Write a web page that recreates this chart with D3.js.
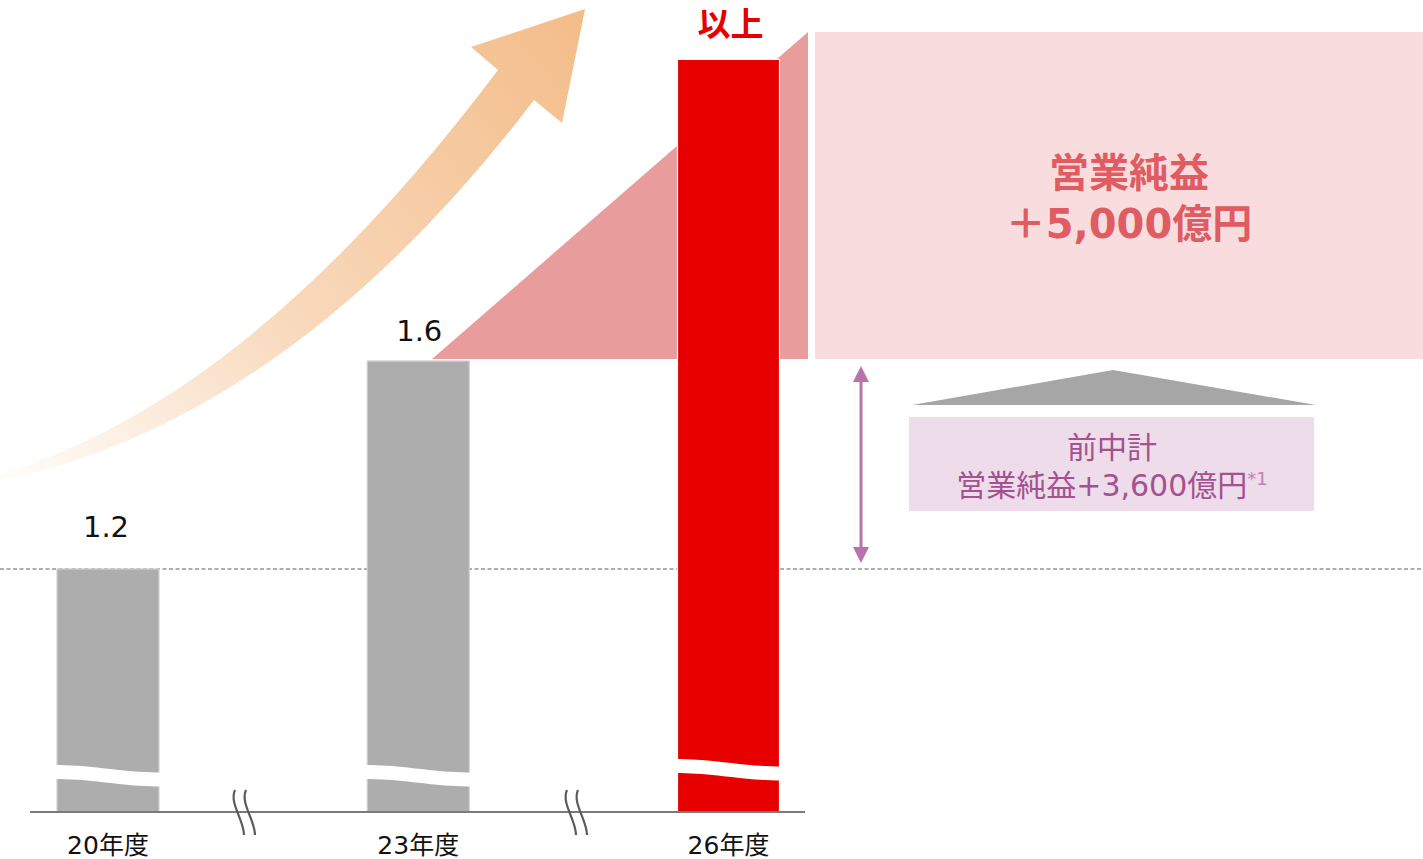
<!DOCTYPE html>
<html>
<head>
<meta charset="utf-8">
<script src="https://cdn.jsdelivr.net/npm/d3@7"></script>
<style>
  body { margin: 0; background: #fff; }
  svg { display: block; }
</style>
</head>
<body>
<svg id="chart" width="1423" height="859"></svg>
<script>
// data
const categories = ["20年度", "23年度", "26年度"];
const values = [1.2, 1.6, 2.18];
const valueLabels = ["1.2", "1.6", ""];
const barColors = ["#ADADAD", "#ADADAD", "#E60000"];
const targetTitle = ["営業純益", "＋5,000億円"];
const prevPlan = ["前中計", "営業純益+3,600億円"];
const prevNote = "*1";
const topNote = "以上";

const W = 1423, H = 859;
const baseY = 812;
const barW = 102;
const font = "'DejaVu Sans', 'Noto Sans CJK JP', sans-serif";
const cjk = "'Noto Sans CJK JP', sans-serif";

const svg = d3.select("#chart");

// broken axis: only relative heights matter
const y = d3.scaleLinear().domain([1.2, 1.6]).range([569, 361]);
const x = d3.scalePoint().domain(categories).range([108, 728.5]);

// gradient for the growth arrow
const defs = svg.append("defs");
const grad = defs.append("linearGradient")
    .attr("id", "arrowGrad")
    .attr("gradientUnits", "userSpaceOnUse")
    .attr("x1", 0).attr("y1", 480).attr("x2", 585).attr("y2", 9);
grad.append("stop").attr("offset", 0).attr("stop-color", "#F4BE8C").attr("stop-opacity", 0.03);
grad.append("stop").attr("offset", 0.45).attr("stop-color", "#F4BE8C").attr("stop-opacity", 0.6);
grad.append("stop").attr("offset", 1).attr("stop-color", "#F3BC88").attr("stop-opacity", 1);

// growth arrow
const ap = d3.path();
ap.moveTo(0, 474);
ap.quadraticCurveTo(250, 400, 498, 70);
ap.lineTo(471, 47);
ap.lineTo(585, 9);
ap.lineTo(562, 123);
ap.lineTo(534, 100);
ap.quadraticCurveTo(290, 420, 0, 481);
ap.closePath();
svg.append("path").attr("d", ap.toString()).attr("fill", "url(#arrowGrad)");

// target box + wedge
const boxTop = 32;
const boxBottom = y(values[1]) - 2;
svg.append("path")
    .attr("d", `M432,${boxBottom}L808,${boxBottom}L808,${boxTop}Z`)
    .attr("fill", "#E99C9C");
svg.append("rect")
    .attr("x", 815).attr("y", boxTop)
    .attr("width", W - 815).attr("height", boxBottom - boxTop)
    .attr("fill", "#F9DCDE");
svg.append("g")
    .selectAll("text")
    .data(targetTitle)
    .join("text")
    .attr("x", 1129)
    .attr("y", (d, i) => 187 + i * 51)
    .attr("text-anchor", "middle")
    .attr("font-family", font)
    .attr("font-weight", "bold")
    .attr("font-size", 40)
    .attr("fill", "#DF5C63")
    .text(d => d);

// dashed reference line at 20年度 level
svg.append("line")
    .attr("x1", 0).attr("x2", W)
    .attr("y1", y(values[0])).attr("y2", y(values[0]))
    .attr("stroke", "#5E5E5E")
    .attr("stroke-width", 1.2)
    .attr("stroke-dasharray", "4,2.5");

// bars
const bars = svg.append("g");
bars.selectAll("rect")
    .data(values)
    .join("rect")
    .attr("x", (d, i) => x(categories[i]) - barW / 2)
    .attr("y", d => y(d))
    .attr("width", barW)
    .attr("height", d => baseY - y(d))
    .attr("fill", (d, i) => barColors[i])
    .attr("stroke", (d, i) => i === 2 ? "#fff" : "#d0d0d0")
    .attr("stroke-width", 1.2);

// wavy break bands across bars
const waveY = [765, 765, 759];
bars.selectAll("path.wave")
    .data(categories)
    .join("path")
    .attr("class", "wave")
    .attr("fill", "#fff")
    .attr("d", (c, i) => {
      const x0 = x(c) - barW / 2 - 2, x1 = x(c) + barW / 2 + 2;
      const pts = d3.range(0, 1.0001, 0.05);
      const f = t => waveY[i] + 7.5 * (1 - Math.cos(Math.PI * t)) / 2;
      const upper = pts.map(t => [x0 + t * (x1 - x0), f(t)]);
      const lower = pts.slice().reverse().map(t => [x0 + t * (x1 - x0), f(t) + 14]);
      return d3.line().curve(d3.curveLinear)(upper.concat(lower)) + "Z";
    });

// value labels
const labelGap = [32, 20];
svg.append("g")
    .selectAll("text")
    .data(valueLabels)
    .join("text")
    .attr("x", (d, i) => x(categories[i]) - 2 + i * 3)
    .attr("y", (d, i) => y(values[i]) - (labelGap[i] || 0))
    .attr("text-anchor", "middle")
    .attr("font-family", font)
    .attr("font-size", 29)
    .attr("fill", "#111")
    .text(d => d);

svg.append("text")
    .attr("x", x(categories[2]) + 2)
    .attr("y", 36)
    .attr("text-anchor", "middle")
    .attr("font-family", cjk)
    .attr("font-weight", "bold")
    .attr("font-size", 33)
    .attr("fill", "#E60000")
    .text(topNote);

// axis
svg.append("line")
    .attr("x1", 30).attr("x2", 805)
    .attr("y1", baseY).attr("y2", baseY)
    .attr("stroke", "#7A7A7A").attr("stroke-width", 2);

svg.append("g")
    .selectAll("text")
    .data(categories)
    .join("text")
    .attr("x", d => x(d))
    .attr("y", 854)
    .attr("text-anchor", "middle")
    .attr("font-family", font)
    .attr("font-size", 25)
    .attr("fill", "#111")
    .text(d => d);

// axis break marks (between the categories)
const breakX = [235, 567];
const breaks = svg.append("g")
    .attr("fill", "none")
    .attr("stroke", "#5A5A5A")
    .attr("stroke-width", 2.2);
breakX.forEach(bx => {
  [0, 11].forEach(off => {
    const sx = bx + off;
    breaks.append("path")
        .attr("d", `M${sx},790C${sx - 6},803 ${sx + 9},820 ${sx + 9},835`);
  });
});

// double arrow between 20年度 and 23年度 levels
const ax = 861;
const ay0 = y(values[1]) + 5, ay1 = y(values[0]) - 6;
const arr = svg.append("g").attr("fill", "#BA72AA");
arr.append("line")
    .attr("x1", ax).attr("x2", ax)
    .attr("y1", ay0 + 10).attr("y2", ay1 - 10)
    .attr("stroke", "#BA72AA").attr("stroke-width", 3);
arr.append("path").attr("d", `M${ax},${ay0}L${ax - 8},${ay0 + 16}L${ax + 8},${ay0 + 16}Z`);
arr.append("path").attr("d", `M${ax},${ay1}L${ax - 8},${ay1 - 16}L${ax + 8},${ay1 - 16}Z`);

// previous plan box
svg.append("path")
    .attr("d", "M912,405L1113,370L1316,405Z")
    .attr("fill", "#A6A6A6");
svg.append("rect")
    .attr("x", 909).attr("y", 417)
    .attr("width", 405).attr("height", 94)
    .attr("fill", "#EEDCEA");
const pt = svg.append("g")
    .attr("font-family", font)
    .attr("font-size", 30)
    .attr("fill", "#A4518F");
pt.append("text")
    .attr("x", 1112).attr("y", 458)
    .attr("text-anchor", "middle")
    .text(prevPlan[0]);
const line2 = pt.append("text")
    .attr("x", 1112).attr("y", 496)
    .attr("text-anchor", "middle");
line2.append("tspan").text(prevPlan[1]);
line2.append("tspan")
    .attr("font-size", 18)
    .attr("dy", -11)
    .attr("fill", "#C081B2")
    .text(prevNote);
</script>
</body>
</html>
